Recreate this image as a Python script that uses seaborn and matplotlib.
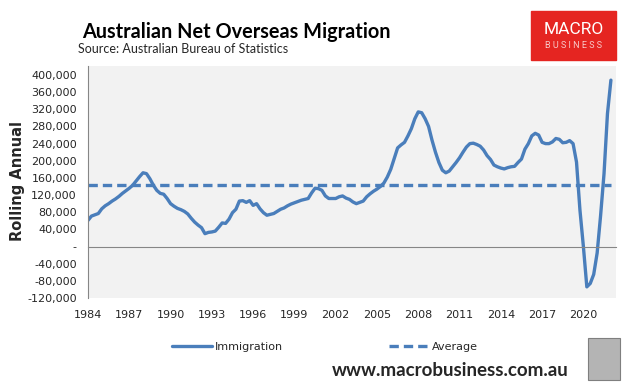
import numpy as np
import pandas as pd
import matplotlib.pyplot as plt
import seaborn as sns
from matplotlib.patches import Rectangle
from matplotlib.ticker import FuncFormatter

# quarterly rolling annual net overseas migration ('000), 1984 Q1 onwards
start_year = 1984
immigration = [
    61, 71, 74, 77,        # 1984
    88, 95, 100, 106,      # 1985
    111, 117, 124, 130,    # 1986
    136, 143, 153, 163,    # 1987
    172, 170, 158, 143,    # 1988
    131, 124, 122, 112,    # 1989
    100, 94, 89, 86,       # 1990
    82, 76, 66, 57,        # 1991
    50, 44, 30, 33,        # 1992
    34, 36, 45, 55,        # 1993
    54, 64, 79, 87,        # 1994
    106, 107, 103, 107,    # 1995
    96, 100, 88, 79,       # 1996
    73, 75, 77, 82,        # 1997
    87, 90, 95, 99,        # 1998
    102, 105, 108, 110,    # 1999
    112, 125, 136, 135,    # 2000
    131, 118, 112, 112,    # 2001
    112, 116, 118, 113,    # 2002
    110, 104, 100, 103,    # 2003
    106, 116, 123, 129,    # 2004
    134, 140, 148, 162,    # 2005
    180, 205, 230, 237,    # 2006
    243, 258, 275, 298,    # 2007
    314, 312, 298, 280,    # 2008
    248, 220, 196, 178,    # 2009
    172, 176, 186, 196,    # 2010
    207, 220, 232, 240,    # 2011
    241, 238, 234, 225,    # 2012
    212, 203, 190, 186,    # 2013
    183, 181, 184, 186,    # 2014
    187, 196, 204, 227,    # 2015
    240, 258, 264, 260,    # 2016
    243, 240, 240, 244,    # 2017
    252, 250, 242, 243,    # 2018
    247, 240, 197, 85,     # 2019
    0, -94, -86, -65,      # 2020
    -15, 72, 170, 310,     # 2021
    388,                   # 2022
]
average = 143
year_ticks = list(range(1984, 2021, 3))
y_ticks = list(range(-120000, 400001, 40000))

df = pd.DataFrame({
    'year': start_year + np.arange(len(immigration)) / 4,
    'Immigration': np.array(immigration) * 1000,
})
df['Average'] = average * 1000

sns.set_style("white")
plt.rcParams['font.family'] = ['DejaVu Sans']

blue = '#4A7EBB'
grey = '#868686'

fig = plt.figure(figsize=(6.33, 3.88), dpi=100)
ax = fig.add_axes([88 / 633, 1 - 298 / 388, 528 / 633, 232 / 388])
ax.set_facecolor('#F2F2F2')

sns.lineplot(data=df, x='year', y='Immigration', color=blue, lw=2.4, ax=ax, label='Immigration')
sns.lineplot(data=df, x='year', y='Average', color=blue, lw=2.4, ax=ax, label='Average',
             linestyle=(0, (2.8, 1.5)))

handles, labels = ax.get_legend_handles_labels()
ax.get_legend().remove()

ax.set_xlim(1984, 2022.37)
ax.set_ylim(-120000, 421000)

for s in ['top', 'right']:
    ax.spines[s].set_visible(False)
ax.spines['left'].set_color(grey)
ax.spines['bottom'].set_color(grey)
ax.spines['bottom'].set_position(('data', 0))

ax.set_xticks(year_ticks)
ax.set_yticks(y_ticks)
ax.yaxis.set_major_formatter(FuncFormatter(lambda v, p: '-' if v == 0 else f'{v:,.0f}'))
ax.tick_params(axis='x', direction='out', length=5, color=grey, pad=41, labelsize=8)
ax.tick_params(axis='y', direction='out', length=5, color=grey, pad=3, labelsize=8)
ax.set_xlabel('')
ax.set_ylabel('')
ax.grid(False)

fig.text(18 / 633, 1 - 181 / 388, 'Rolling Annual', rotation=90, fontsize=10.5,
         fontweight='bold', ha='center', va='center')

fig.text(82 / 633, 1 - 32 / 388, 'Australian Net Overseas Migration', fontsize=14.3,
         fontweight='bold', family='Lato', color='black', va='center')
fig.text(78 / 633, 1 - 49 / 388, 'Source: Australian Bureau of Statistics', fontsize=9,
         family='Lato', va='center')

# logo
fig.add_artist(Rectangle((531 / 633, 1 - 60 / 388), 85 / 633, 49 / 388,
                         transform=fig.transFigure, color='#E52521', zorder=0))
fig.text(573.5 / 633, 1 - 29 / 388, 'MACRO', color='white', fontsize=12.5,
         ha='center', va='center', family='Roboto')
fig.text(573.5 / 633, 1 - 45 / 388, 'B U S I N E S S', color='#F7C9C8', fontsize=6.5,
         ha='center', va='center', family='Roboto')

fig.legend(handles, labels, loc='center', bbox_to_anchor=(325 / 633, 1 - 347 / 388), ncol=2,
           frameon=False, fontsize=8, handlelength=3.6, columnspacing=9.5, handletextpad=0.3)

fig.text(450 / 633, 1 - 370 / 388, 'www.macrobusiness.com.au', fontsize=13.5,
         fontweight='bold', ha='center', va='center', family='Lato')
fig.add_artist(Rectangle((588 / 633, 1 - 380 / 388), 32 / 633, 42 / 388,
                         transform=fig.transFigure, facecolor='#B4B4B4', edgecolor='#7F7F7F', lw=0.8))

fig.savefig('out.png', dpi=100)
